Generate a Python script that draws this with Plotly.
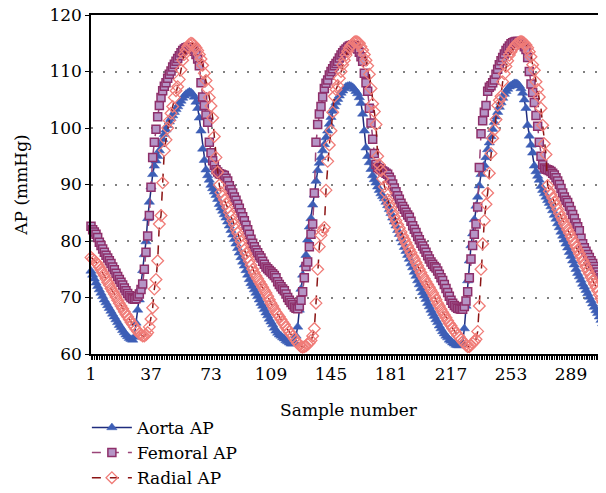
import plotly.graph_objects as go

aorta = [
    74.7, 74.0, 73.3, 72.6, 72.0, 71.4, 70.8, 70.2, 69.6, 69.1,
    68.6, 68.1, 67.6, 67.1, 66.6, 66.1, 65.6, 65.1, 64.7, 64.2,
    63.8, 63.4, 63.1, 62.8, 62.6, 62.5, 63.0, 65.5, 67.8, 69.6,
    71.8, 74.8, 77.6, 79.9, 84.0, 86.9, 89.6, 91.8, 93.3, 94.2,
    95.0, 96.0, 97.1, 98.0, 98.9, 99.7, 100.5, 101.1, 101.7, 102.2,
    102.8, 103.3, 103.8, 104.3, 104.8, 105.3, 105.7, 106.0, 106.2, 106.4,
    106.3, 106.0, 105.5, 104.6, 103.5, 101.8, 99.5, 96.3, 94.3, 92.6,
    91.6, 90.8, 89.9, 89.3, 88.7, 88.1, 87.4, 86.5, 85.9, 85.3,
    84.7, 84.1, 83.4, 82.7, 81.9, 81.1, 80.3, 79.5, 78.7, 77.9,
    77.1, 76.3, 75.6, 74.8, 74.0, 73.2, 72.5, 72.0, 71.4, 70.8,
    70.2, 69.6, 69.0, 68.5, 67.9, 67.3, 66.8, 66.2, 65.7, 65.2,
    64.6, 64.1, 63.7, 63.4, 63.2, 62.9, 62.7, 62.4, 62.2, 62.0,
    61.8, 61.8, 62.2, 63.2, 64.8, 67.8, 71.5, 74.0, 75.8, 77.5,
    80.2, 82.5, 84.0, 86.4, 88.2, 90.6, 92.5, 93.8, 94.8, 96.0,
    97.1, 98.3, 99.5, 100.7, 101.9, 103.0, 103.8, 104.5, 105.1, 105.7,
    106.2, 106.6, 107.0, 107.3, 107.4, 107.5, 107.4, 107.2, 106.9, 106.5,
    106.1, 105.4, 104.4, 102.5, 99.5, 96.5, 95.0, 93.9, 92.7, 91.6,
    90.9, 90.3, 89.6, 89.0, 88.4, 87.9, 87.5, 86.9, 86.3, 85.6,
    84.9, 84.1, 83.4, 82.7, 81.9, 81.2, 80.4, 79.7, 78.9, 78.2,
    77.5, 76.8, 76.0, 75.3, 74.5, 73.8, 73.0, 72.3, 71.6, 70.9,
    70.3, 69.7, 69.0, 68.4, 67.8, 67.2, 66.7, 66.1, 65.6, 65.0,
    64.5, 64.0, 63.6, 63.2, 62.9, 62.5, 62.3, 62.0, 61.8, 61.6,
    61.5, 61.5, 61.7, 62.0, 64.5, 68.5, 73.0, 76.5, 79.2, 81.3,
    83.8, 86.2, 87.8, 89.8, 91.8, 92.8, 93.4, 94.8, 96.2, 97.4,
    98.5, 99.8, 101.0, 102.0, 102.8, 103.7, 104.5, 105.3, 106.0, 106.5,
    106.9, 107.3, 107.5, 107.7, 107.9, 107.9, 107.8, 107.5, 107.0, 106.2,
    105.0, 103.5, 100.5, 98.6, 97.0, 95.6, 93.3, 92.3, 91.5, 90.8,
    89.7, 89.0, 88.4, 87.8, 87.2, 86.7, 86.1, 85.4, 84.6, 83.9,
    83.1, 82.4, 81.6, 80.9, 80.2, 79.5, 78.8, 78.0, 77.3, 76.5,
    75.8, 75.0, 74.3, 73.7, 73.1, 72.4, 71.9, 71.3, 70.7, 70.1,
    69.5, 68.9, 68.3, 67.7, 67.2, 66.6, 66.0, 65.4, 64.8, 64.3,
    63.8, 63.3,
]

femoral = [
    82.6, 82.0, 81.6, 81.2, 80.6, 79.8, 79.2, 78.6, 78.0, 77.5,
    77.0, 76.5, 76.0, 75.4, 74.9, 74.3, 73.7, 73.2, 72.7, 72.2,
    71.7, 71.2, 70.7, 70.3, 70.0, 69.8, 69.7, 69.8, 70.2, 70.6,
    71.4, 72.4, 75.0, 78.0, 80.9, 84.5, 89.5, 94.8, 97.5, 99.8,
    102.0, 104.0, 105.4, 106.6, 107.4, 108.0, 108.8, 109.5, 110.1, 110.8,
    111.3, 111.8, 112.3, 112.8, 113.3, 113.7, 114.0, 114.2, 114.3, 114.3,
    114.2, 114.0, 113.6, 113.0, 112.2, 111.0, 108.0, 105.5, 104.0, 102.3,
    101.0, 97.5, 95.6, 94.2, 93.4, 92.6, 92.2, 91.9, 91.8, 91.7,
    91.6, 91.1, 90.6, 89.8, 89.1, 88.5, 87.8, 87.2, 86.5, 85.8,
    85.0, 84.3, 83.6, 82.8, 82.0, 81.2, 80.3, 79.6, 79.0, 78.4,
    77.9, 77.4, 77.0, 76.4, 75.9, 75.4, 75.1, 74.8, 74.5, 74.2,
    73.9, 73.5, 72.8, 72.3, 71.9, 71.5, 71.2, 70.6, 70.0, 69.5,
    69.1, 68.7, 68.3, 68.1, 68.0, 68.5, 69.5, 71.0, 73.5, 75.5,
    76.3, 79.0, 81.2, 83.0, 88.5, 97.5, 100.6, 102.5, 103.8, 105.5,
    107.0, 107.9, 108.5, 109.4, 110.0, 110.5, 111.0, 111.4, 111.8, 112.4,
    112.9, 113.3, 113.7, 114.0, 114.3, 114.5, 114.6, 114.7, 114.6, 114.4,
    114.0, 113.4, 112.6, 111.8, 109.7, 108.0, 106.5, 103.5, 100.9, 98.0,
    95.5, 93.6, 93.0, 92.8, 92.6, 92.4, 92.2, 92.0, 91.8, 91.3,
    90.8, 90.1, 89.4, 88.7, 88.0, 87.4, 86.7, 86.1, 85.6, 85.1,
    84.6, 84.2, 83.5, 82.7, 82.1, 81.5, 80.8, 80.2, 79.6, 79.1,
    78.6, 78.0, 77.4, 76.8, 76.3, 75.9, 75.5, 75.2, 74.7, 74.1,
    73.5, 73.0, 72.3, 71.6, 70.9, 70.2, 69.5, 69.0, 68.6, 68.3,
    68.1, 68.0, 67.9, 67.9, 68.4, 69.4, 71.0, 73.5, 76.8, 79.2,
    81.2, 83.0, 86.0, 93.0, 99.0, 101.3, 102.8, 104.0, 106.5, 107.2,
    107.5, 108.0, 108.5, 109.5, 110.4, 111.2, 111.9, 112.5, 113.1, 113.7,
    114.1, 114.5, 114.9, 115.1, 115.2, 115.3, 115.3, 115.3, 115.1, 114.8,
    114.4, 113.9, 112.5, 110.0, 107.8, 106.3, 104.5, 102.2, 100.3, 97.5,
    95.0, 93.5, 92.9, 92.7, 92.6, 92.5, 92.3, 92.0, 91.7, 91.2,
    90.6, 90.0, 89.3, 88.5, 87.8, 87.2, 86.8, 86.1, 85.4, 84.7,
    84.0, 83.2, 82.5, 81.8, 80.5, 79.5, 78.8, 78.2, 77.6, 77.1,
    76.5, 76.0, 75.5, 75.0, 74.5, 74.0, 73.5, 73.0, 72.4, 71.9,
    71.4, 70.9,
]

radial = [
    77.1, 76.8, 76.5, 76.2, 75.9, 75.4, 74.9, 74.4, 73.9, 73.3,
    72.7, 72.2, 71.6, 71.1, 70.6, 70.1, 69.5, 69.0, 68.5, 68.0,
    67.5, 67.0, 66.6, 66.1, 65.6, 65.2, 64.8, 64.4, 64.0, 63.6,
    63.4, 63.2, 63.2, 63.4, 63.8, 64.8, 66.2, 68.2, 71.5, 73.2,
    76.5, 83.0, 84.5, 90.3, 96.0, 97.9, 100.0, 101.3, 102.6, 103.8,
    105.4, 106.6, 107.3, 108.6, 110.3, 112.0, 113.0, 113.8, 114.4, 114.8,
    115.0, 114.9, 114.6, 114.2, 113.7, 113.0, 112.2, 111.1, 109.7, 108.4,
    106.9, 105.4, 103.9, 101.8, 98.5, 94.8, 92.2, 89.9, 88.6, 87.9,
    87.3, 86.6, 85.9, 85.1, 84.4, 83.6, 82.9, 82.1, 81.4, 80.6,
    79.9, 79.1, 78.4, 77.8, 77.1, 76.4, 75.7, 75.0, 74.4, 73.8,
    73.3, 72.8, 72.3, 71.8, 71.3, 70.8, 70.2, 69.6, 69.0, 68.5,
    67.9, 67.4, 67.0, 66.6, 66.1, 65.6, 65.2, 64.7, 64.3, 63.9,
    63.5, 63.1, 62.7, 62.3, 61.9, 61.6, 61.3, 61.2, 61.3, 61.4,
    61.7, 62.0, 62.4, 63.2, 64.5, 69.0, 75.0, 79.0, 81.0, 81.8,
    82.4, 89.0, 94.1, 97.0, 99.5, 102.8, 105.6, 106.8, 107.5, 108.8,
    110.0, 111.2, 112.0, 112.9, 113.6, 114.2, 114.6, 114.9, 115.2, 115.3,
    115.2, 115.0, 114.4, 113.8, 113.0, 112.0, 111.0, 109.5, 107.0, 104.3,
    102.9, 100.6, 95.0, 93.5, 92.5, 91.0, 89.6, 88.5, 87.3, 86.5,
    85.8, 85.0, 84.3, 83.6, 82.9, 82.3, 81.6, 80.9, 80.3, 79.7,
    79.1, 78.5, 77.9, 77.3, 76.8, 76.2, 75.6, 75.0, 74.4, 73.8,
    73.3, 72.8, 72.3, 71.8, 71.3, 70.8, 70.2, 69.6, 69.0, 68.5,
    67.9, 67.4, 66.9, 66.4, 65.9, 65.4, 65.0, 64.5, 64.1, 63.7,
    63.3, 63.0, 62.6, 62.2, 61.9, 61.6, 61.3, 61.3, 61.6, 61.9,
    62.2, 62.6, 64.0, 68.5, 75.0, 79.5, 83.6, 86.5, 88.5, 92.0,
    95.5, 98.2, 99.7, 101.5, 104.0, 104.9, 105.6, 108.2, 109.6, 110.9,
    111.9, 112.9, 113.5, 114.0, 114.4, 114.8, 115.0, 115.2, 115.3, 115.2,
    115.0, 114.7, 114.2, 113.5, 112.6, 111.2, 110.2, 108.2, 106.8, 105.5,
    103.5, 100.5, 97.2, 95.3, 89.8, 88.8, 88.2, 87.6, 86.9, 86.3,
    85.6, 84.9, 84.3, 83.7, 83.1, 82.6, 82.0, 81.4, 80.8, 80.2,
    79.6, 79.0, 78.4, 77.8, 77.2, 76.6, 76.0, 75.4, 74.8, 74.2,
    73.6, 73.0, 72.4, 71.8, 71.2, 70.5, 69.8, 69.2, 68.6, 68.1,
    67.6, 67.1,
]

samples = list(range(1, len(aorta) + 1))
x_tick_values = [1, 37, 73, 109, 145, 181, 217, 253, 289, 325]
x_tick_labels = ["1", "37", "73", "109", "145", "181", "217", "253", "289", "325"]
y_tick_values = [60, 70, 80, 90, 100, 110, 120]

FONT = "DejaVu Serif, Liberation Serif, serif"
FS = 17

fig = go.Figure()
fig.add_trace(go.Scatter(
    x=samples, y=aorta, name="Aorta AP", mode="lines+markers",
    line=dict(color="#1F2C7E", width=1.5),
    marker=dict(symbol="triangle-up", size=9, color="#3D5EB6",
                line=dict(color="#3D5EB6", width=0.5)),
    cliponaxis=False,
))
fig.add_trace(go.Scatter(
    x=samples, y=femoral, name="Femoral AP", mode="lines+markers",
    line=dict(color="#9A4478", width=1.5, dash="dash"),
    marker=dict(symbol="square", size=8, color="#B595C6",
                line=dict(color="#8E2F6A", width=1.5)),
    cliponaxis=False,
))
fig.add_trace(go.Scatter(
    x=samples, y=radial, name="Radial AP", mode="lines+markers",
    line=dict(color="#8B1414", width=1.5, dash="dash"),
    marker=dict(symbol="diamond-open", size=9, color="#F07C78",
                line=dict(color="#F07C78", width=1.3)),
    cliponaxis=False,
))

fig.update_layout(
    width=606, height=493,
    margin=dict(l=83, r=8, t=7, b=147, autoexpand=False),
    paper_bgcolor="white", plot_bgcolor="white",
    font=dict(family=FONT, size=FS, color="black"),
    showlegend=True,
    legend=dict(
        x=-0.008, y=-0.165, xanchor="left", yanchor="top",
        orientation="v", font=dict(family=FONT, size=FS),
        bgcolor="rgba(0,0,0,0)", itemwidth=40, tracegroupgap=0,
    ),
)

fig.update_xaxes(
    range=[1, 310], automargin=False,
    tickmode="array", tickvals=x_tick_values, ticktext=x_tick_labels,
    showline=True, linecolor="black", linewidth=1.5, mirror=True,
    ticks="outside", ticklen=4, tickcolor="black", tickwidth=1,
    minor=dict(dtick=1, tick0=1, ticks="outside", ticklen=4,
               tickcolor="black", tickwidth=1, showgrid=False),
    ticklabelstandoff=0, ticklabeloverflow="allow",
    showgrid=False, zeroline=False,
    title=dict(text="Sample number", font=dict(family=FONT, size=FS), standoff=21),
)
fig.update_yaxes(
    range=[60, 120], automargin=False,
    tickmode="array", tickvals=y_tick_values,
    showline=True, linecolor="black", linewidth=1.5,
    ticks="outside", ticklen=4, tickcolor="black", tickwidth=1,
    ticklabelstandoff=0, ticklabeloverflow="allow",
    showgrid=True, gridcolor="#808080", gridwidth=1.5, griddash="2px,10px",
    zeroline=False,
    title=dict(text="AP (mmHg)", font=dict(family=FONT, size=FS), standoff=17),
)

fig.write_html("out.html")
